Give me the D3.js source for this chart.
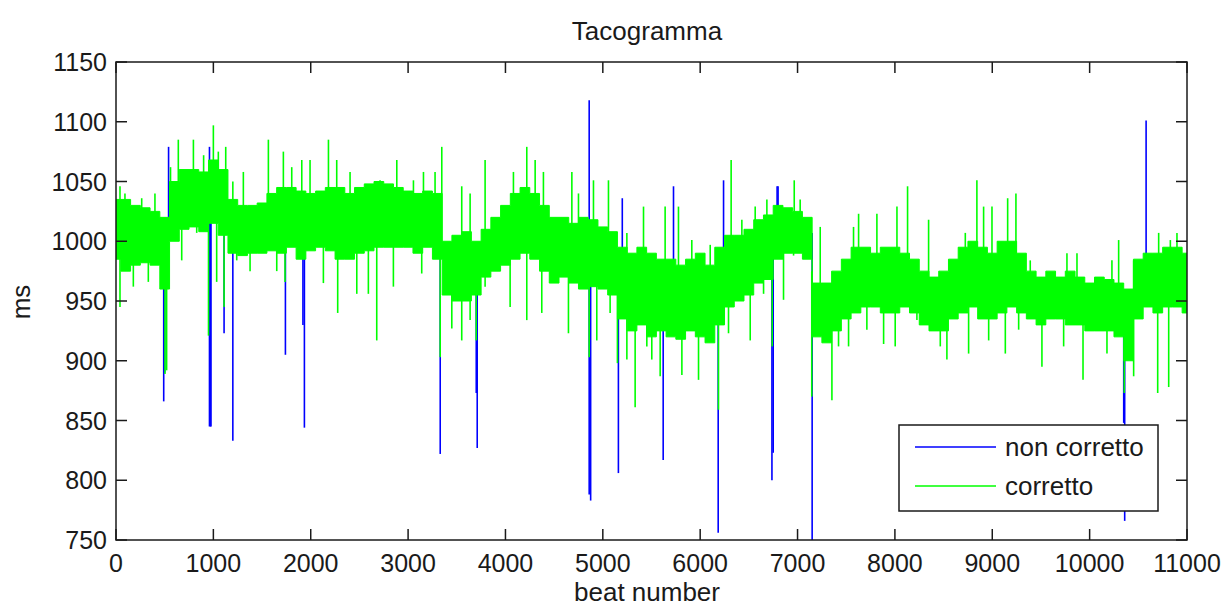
<!DOCTYPE html>
<html><head><meta charset="utf-8">
<script src="https://cdn.jsdelivr.net/npm/d3@7"></script>
<style>body{margin:0;background:#fff}svg{display:block}text{font-family:Arial,"Liberation Sans",sans-serif;fill:#1a1a1a}</style>
</head><body><svg id="c" width="1223" height="608"></svg>
<script>
// Beat positions of the band samples (every 100 beats)
const bandBeats = d3.range(0, 11001, 100);
// Dense band of the corrected series (upper / lower edge, ms)
const bandHi = [1035,1035,1030,1028,1025,1020,1050,1060,1060,1058,1068,1060,1035,1030,1030,1032,1040,1045,1045,1042,
  1040,1042,1045,1045,1040,1045,1048,1050,1048,1045,1042,1040,1042,1040,1000,1005,1008,1000,1010,1020,
  1030,1040,1045,1040,1030,1020,1020,1015,1020,1018,1012,1008,995,990,995,990,985,985,980,985,
  990,980,995,1005,1005,1010,1018,1022,1030,1028,1025,1020,965,965,975,985,995,995,990,995,
  995,990,985,975,970,975,985,995,1000,995,990,1000,1000,990,975,970,975,970,975,970,
  965,970,968,965,960,985,990,990,995,995,990];
const bandLo = [985,975,980,982,980,960,1000,1010,1012,1008,1015,1005,990,988,990,990,992,990,995,985,
  992,995,992,985,985,990,992,995,995,995,995,990,995,985,955,950,950,955,970,975,
  980,985,990,985,975,965,970,965,960,962,960,955,935,925,930,920,925,920,918,925,
  920,915,930,945,950,955,965,968,985,990,990,985,920,915,925,935,940,945,945,940,
  940,945,940,930,925,925,935,940,945,935,935,940,945,940,935,930,935,935,930,930,
  925,925,925,920,900,935,945,940,945,945,940];
// Isolated excursions of the corrected series: [beat, ms]
const greenSpikes = [
  [41,1046],[92,1040],[264,1036],[400,1040],[560,1062],[640,1085],[795,1085],[900,1072],[1000,1097],[1051,1075],
  [1127,1079],[1200,1050],[1308,1058],[1428,1029],[1565,1085],[1719,1075],[1805,1062],[1908,1068],[1993,1068],
  [2182,1085],[2267,1068],[2404,1058],[2575,1040],[2712,1051],[2884,1068],[3055,1051],[3158,1058],[3277,1058],
  [3346,1079],[3551,1046],[3637,1040],[3791,1068],[4082,1058],[4219,1079],[4305,1068],[4390,1058],[4682,1058],
  [4750,1040],[4904,1051],[5058,1051],[5247,1007],[5418,1029],[5640,1029],[5777,1029],[5914,1001],[6103,997],
  [6318,1068],[6428,1018],[6565,1029],[6685,1035],[6966,1051],[7027,1035],[7233,1012],[7575,1012],[7627,1023],
  [7815,1023],[8021,1029],[8130,1046],[8346,1018],[8620,984],[8723,1007],[8842,1051],[8911,1029],[8997,1029],
  [9158,1036],[9243,1040],[9390,984],[9767,990],[9870,990],[10229,984],[10298,1001],[10452,984],[10709,1007],
  [10829,1001],[10897,1007],
  [41,945],[178,962],[332,966],[503,889],[520,892],[675,984],[829,1007],[950,921],[1034,966],[1110,945],[1240,984],
  [1377,975],[1651,975],[1736,966],[2130,965],[2277,940],[2473,956],[2592,956],[2678,917],[2849,962],[3140,973],
  [3330,903],[3449,927],[3551,917],[3637,934],[3700,917],[3791,962],[4048,945],[4219,934],[4373,940],[4647,923],
  [4860,903],[4938,917],[5075,940],[5150,898],[5247,901],[5332,861],[5452,912],[5503,901],[5589,887],[5812,888],
  [5983,884],[6188,859],[6291,923],[6514,917],[6651,956],[6740,912],[6856,951],[6959,988],[7146,870],[7353,867],
  [7421,912],[7524,912],[7712,926],[7884,914],[8003,912],[8226,934],[8329,934],[8466,912],[8534,901],[8757,906],
  [8963,917],[9134,906],[9271,926],[9510,895],[9733,912],[9932,884],[10178,906],[10356,873],[10452,887],
  [10699,873],[10812,878]];
// Artefacts of the uncorrected series: [beat, ms]
const blueSpikes = [[490,866],[500,890],[540,1079],[960,845],[970,845],[975,845],[960,1079],[1110,923],[1200,833],
  [1740,905],[1920,930],[1935,844],[3330,822],[3700,873],[3710,827],[4860,1118],[4860,788],[4875,783],
  [5160,806],[5200,1036],[5620,817],[5726,1046],[6185,756],[6240,1051],[6737,800],[6750,823],[6790,1046],
  [6800,1046],[7150,1007],[7150,740],[10350,848],[10360,766],[10390,947],[10580,1101]];
const xTicks = d3.range(0, 11001, 1000);
const yTicks = d3.range(750, 1151, 50);
const titleText = "Tacogramma", xLabel = "beat number", yLabel = "ms";
const legendNames = ["non corretto", "corretto"];

const svg = d3.select("#c");
const L = 116, R = 1187, T = 62, B = 540;
const x = d3.scaleLinear().domain([0, 11000]).range([L, R]);
const y = d3.scaleLinear().domain([750, 1150]).range([B, T]);
const mid = b => { const i = Math.min(bandBeats.length - 2, Math.floor(b / 100)); const t = (b - bandBeats[i]) / 100;
  return ((bandHi[i] + bandLo[i]) / 2) * (1 - t) + ((bandHi[i + 1] + bandLo[i + 1]) / 2) * t; };

svg.append("defs").append("clipPath").attr("id", "clip").append("rect").attr("x", L).attr("y", T).attr("width", R - L).attr("height", B - T);
const g = svg.append("g").attr("clip-path", "url(#clip)");
// uncorrected (blue) drawn first
g.selectAll("line.b").data(blueSpikes).join("line").attr("class", "b")
  .attr("x1", d => x(d[0])).attr("x2", d => x(d[0])).attr("y1", d => y(mid(d[0]))).attr("y2", d => y(d[1]))
  .attr("stroke", "#0000ff").attr("stroke-width", 1.6);
// corrected (green)
const band = bandBeats.map((b, i) => ({ b, hi: bandHi[i], lo: bandLo[i] }));
g.append("path").datum(band).attr("fill", "#00ff00").attr("stroke", "#00ff00").attr("stroke-width", 1)
  .attr("d", d3.area().curve(d3.curveStep).x(d => x(d.b)).y0(d => y(d.lo)).y1(d => y(d.hi)));
g.selectAll("line.g").data(greenSpikes).join("line").attr("class", "g")
  .attr("x1", d => x(d[0])).attr("x2", d => x(d[0])).attr("y1", d => y(mid(d[0]))).attr("y2", d => y(d[1]))
  .attr("stroke", "#00ff00").attr("stroke-width", 1.6);

// axes box with inward ticks
const fs = 25, fl = 26;
const ax = svg.append("g").attr("stroke", "#1a1a1a").attr("stroke-width", 1.5);
ax.append("rect").attr("x", L).attr("y", T).attr("width", R - L).attr("height", B - T).attr("fill", "none");
xTicks.forEach(t => { ax.append("line").attr("x1", x(t)).attr("x2", x(t)).attr("y1", B).attr("y2", B - 11);
  ax.append("line").attr("x1", x(t)).attr("x2", x(t)).attr("y1", T).attr("y2", T + 11); });
yTicks.forEach(t => { ax.append("line").attr("y1", y(t)).attr("y2", y(t)).attr("x1", L).attr("x2", L + 11);
  ax.append("line").attr("y1", y(t)).attr("y2", y(t)).attr("x1", R).attr("x2", R - 11); });
svg.selectAll("text.xt").data(xTicks).join("text").attr("class", "xt").attr("x", d => x(d)).attr("y", 572)
  .attr("text-anchor", "middle").attr("font-size", fs).text(d => d);
svg.selectAll("text.yt").data(yTicks).join("text").attr("class", "yt").attr("x", 107).attr("y", d => y(d) + 9)
  .attr("text-anchor", "end").attr("font-size", fs).text(d => d);
svg.append("text").attr("x", 647).attr("y", 40).attr("text-anchor", "middle").attr("font-size", fl).text(titleText);
svg.append("text").attr("x", 647).attr("y", 601).attr("text-anchor", "middle").attr("font-size", fl).text(xLabel);
svg.append("text").attr("transform", "translate(30,302) rotate(-90)").attr("text-anchor", "middle").attr("font-size", fl).text(yLabel);

// legend
const lg = svg.append("g");
lg.append("rect").attr("x", 899).attr("y", 425).attr("width", 259).attr("height", 86).attr("fill", "#fff").attr("stroke", "#1a1a1a").attr("stroke-width", 1.5);
[["#0000ff", 447, legendNames[0]], ["#00ff00", 486, legendNames[1]]].forEach(([c, yy, t]) => {
  lg.append("line").attr("x1", 915).attr("x2", 996).attr("y1", yy).attr("y2", yy).attr("stroke", c).attr("stroke-width", 1.6);
  lg.append("text").attr("x", 1005).attr("y", yy + 9).attr("font-size", fl).text(t);
});
</script></body></html>
